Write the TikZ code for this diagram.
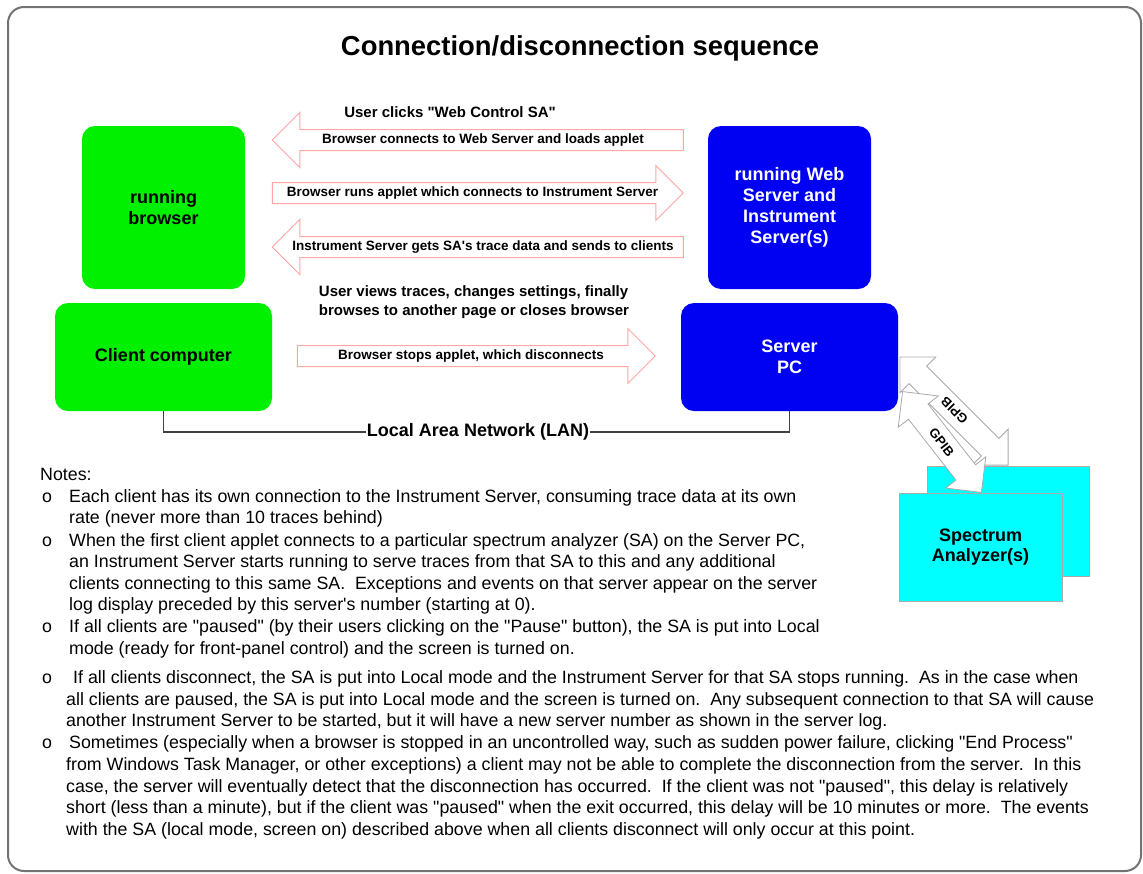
\documentclass[tikz,border=0pt]{standalone}
\usepackage{fontspec}
\setmainfont[Ligatures=TeXOff]{Liberation Sans}
\usetikzlibrary{shapes.arrows}
\definecolor{bgreen}{RGB}{0,240,0}
\definecolor{bblue}{RGB}{0,0,242}
\definecolor{bcyan}{RGB}{0,255,255}
\definecolor{pinkline}{RGB}{255,165,165}
\definecolor{grayline}{RGB}{170,170,170}
\definecolor{framegray}{RGB}{115,115,115}
\begin{document}
\begin{tikzpicture}[x=1pt,y=-1pt,
  boxfont/.style={font=\fontsize{18}{21}\selectfont\bfseries},
  gbox/.style={fill=bgreen, rounded corners=13pt, boxfont, align=center, inner sep=0pt},
  bbox/.style={fill=bblue, rounded corners=13pt, text=white, boxfont, align=center, inner sep=0pt},
  flow/.style={single arrow, draw=pinkline, fill=white, line width=1pt,
    single arrow head extend=17pt, text height=10pt, text depth=3pt,
    inner ysep=3.5pt, inner xsep=0pt, font=\fontsize{13.5}{15}\selectfont\bfseries},
  gpib/.style={double arrow, draw=grayline, fill=white, line width=0.8pt,
    double arrow head extend=13pt, text height=10pt, text depth=0pt,
    inner ysep=7pt, inner xsep=0pt, font=\fontsize{13}{15}\selectfont\bfseries},
  sabox/.style={fill=bcyan, draw=grayline, line width=0.6pt, inner sep=0pt},
  caption/.style={font=\fontsize{15}{19}\selectfont\bfseries, align=left, inner sep=0pt},
  note/.style={anchor=base west, inner sep=0pt, font=\fontsize{17.8}{21}\selectfont},
  lanline/.style={draw=black!75, line width=1.5pt}
]
\useasboundingbox (0,0) rectangle (1143,873);
\draw[draw=framegray, line width=2pt, rounded corners=16pt] (8,7) rectangle (1141,871);

\node[font=\fontsize{27.4}{32}\selectfont\bfseries] (title) at (580,48) {Connection/disconnection sequence};

% boxes
\node[gbox, minimum width=163pt, minimum height=163pt] (browser) at (163.5,207.5) {running\\browser};
\node[gbox, minimum width=217pt, minimum height=108pt] (client) at (163.5,357) {Client computer};
\node[bbox, minimum width=163pt, minimum height=163pt] (webserver) at (789.5,207.5) {running Web\\Server and\\Instrument\\Server(s)};
\node[bbox, minimum width=217pt, minimum height=108pt] (server) at (789.5,357) {Server\\PC};

% flow arrows
\node[caption] (c1) at (450,112) {User clicks "Web Control SA"};
\node[flow, shape border rotate=180, minimum height=411pt] (a1) at (483,140) {Browser connects to Web Server and loads applet};
\node[flow, minimum height=411pt] (a2) at (472.5,193) {Browser runs applet which connects to Instrument Server};
\node[flow, shape border rotate=180, minimum height=411pt] (a3) at (483,247) {Instrument Server gets SA's trace data and sends to clients};
\node[caption] (c2) at (474,302) {User views traces, changes settings, finally\\browses to another page or closes browser};
\node[flow, minimum height=358pt] (a4) at (471,356) {Browser stops applet, which disconnects};

% LAN
\draw[lanline] (client.south) -- ++(0,21) coordinate (lanl) -| (server.south);
\node[fill=white, inner sep=1pt, font=\fontsize{18}{21}\selectfont\bfseries] (lan) at (478,432) {Local Area Network (LAN)};

% spectrum analyzers and GPIB
\node[sabox, minimum width=162pt, minimum height=110pt] (saback) at (1008,521) {};
\node[gpib, rotate=135, minimum height=153pt] (g1) at (954,411) {GPIB};
\node[gpib, rotate=-52, minimum height=128pt] (g2) at (942,442) {GPIB};
\node[sabox, minimum width=163pt, minimum height=108pt, font=\fontsize{18}{20}\selectfont\bfseries, align=center] (safront) at (980.5,547) {Spectrum\\Analyzer(s)};

% notes
\node[note] (notes) at (40,480) {Notes:};
\node[note] (b1) at (42,502) {o};
\node[note] (n1a) at (69,502) {Each client has its own connection to the Instrument Server, consuming trace data at its own};
\node[note] (n1b) at (69,523) {rate (never more than 10 traces behind)};
\node[note] (b2) at (42,546) {o};
\node[note] (n2a) at (69,546) {When the first client applet connects to a particular spectrum analyzer (SA) on the Server PC,};
\node[note] (n2b) at (69,567) {an Instrument Server starts running to serve traces from that SA to this and any additional};
\node[note] (n2c) at (69,589) {clients connecting to this same SA.\ \ Exceptions and events on that server appear on the server};
\node[note] (n2d) at (69,610) {log display preceded by this server's number (starting at 0).};
\node[note] (b3) at (42,632) {o};
\node[note] (n3a) at (69,632) {If all clients are "paused" (by their users clicking on the "Pause" button), the SA is put into Local};
\node[note] (n3b) at (69,654) {mode (ready for front-panel control) and the screen is turned on.};
\node[note] (b4) at (42,683) {o};
\node[note] (n4a) at (73,683) {If all clients disconnect, the SA is put into Local mode and the Instrument Server for that SA stops running.\ \ As in the case when};
\node[note] (n4b) at (66,705) {all clients are paused, the SA is put into Local mode and the screen is turned on.\ \ Any subsequent connection to that SA will cause};
\node[note] (n4c) at (66,726) {another Instrument Server to be started, but it will have a new server number as shown in the server log.};
\node[note] (b5) at (42,748) {o};
\node[note] (n5a) at (69,748) {Sometimes (especially when a browser is stopped in an uncontrolled way, such as sudden power failure, clicking "End Process"};
\node[note] (n5b) at (66,770) {from Windows Task Manager, or other exceptions) a client may not be able to complete the disconnection from the server.\ \ In this};
\node[note] (n5c) at (66,792) {case, the server will eventually detect that the disconnection has occurred.\ \ If the client was not "paused", this delay is relatively};
\node[note] (n5d) at (66,813) {short (less than a minute), but if the client was "paused" when the exit occurred, this delay will be 10 minutes or more.\ \ The events};
\node[note] (n5e) at (66,835) {with the SA (local mode, screen on) described above when all clients disconnect will only occur at this point.};
\end{tikzpicture}
\end{document}
